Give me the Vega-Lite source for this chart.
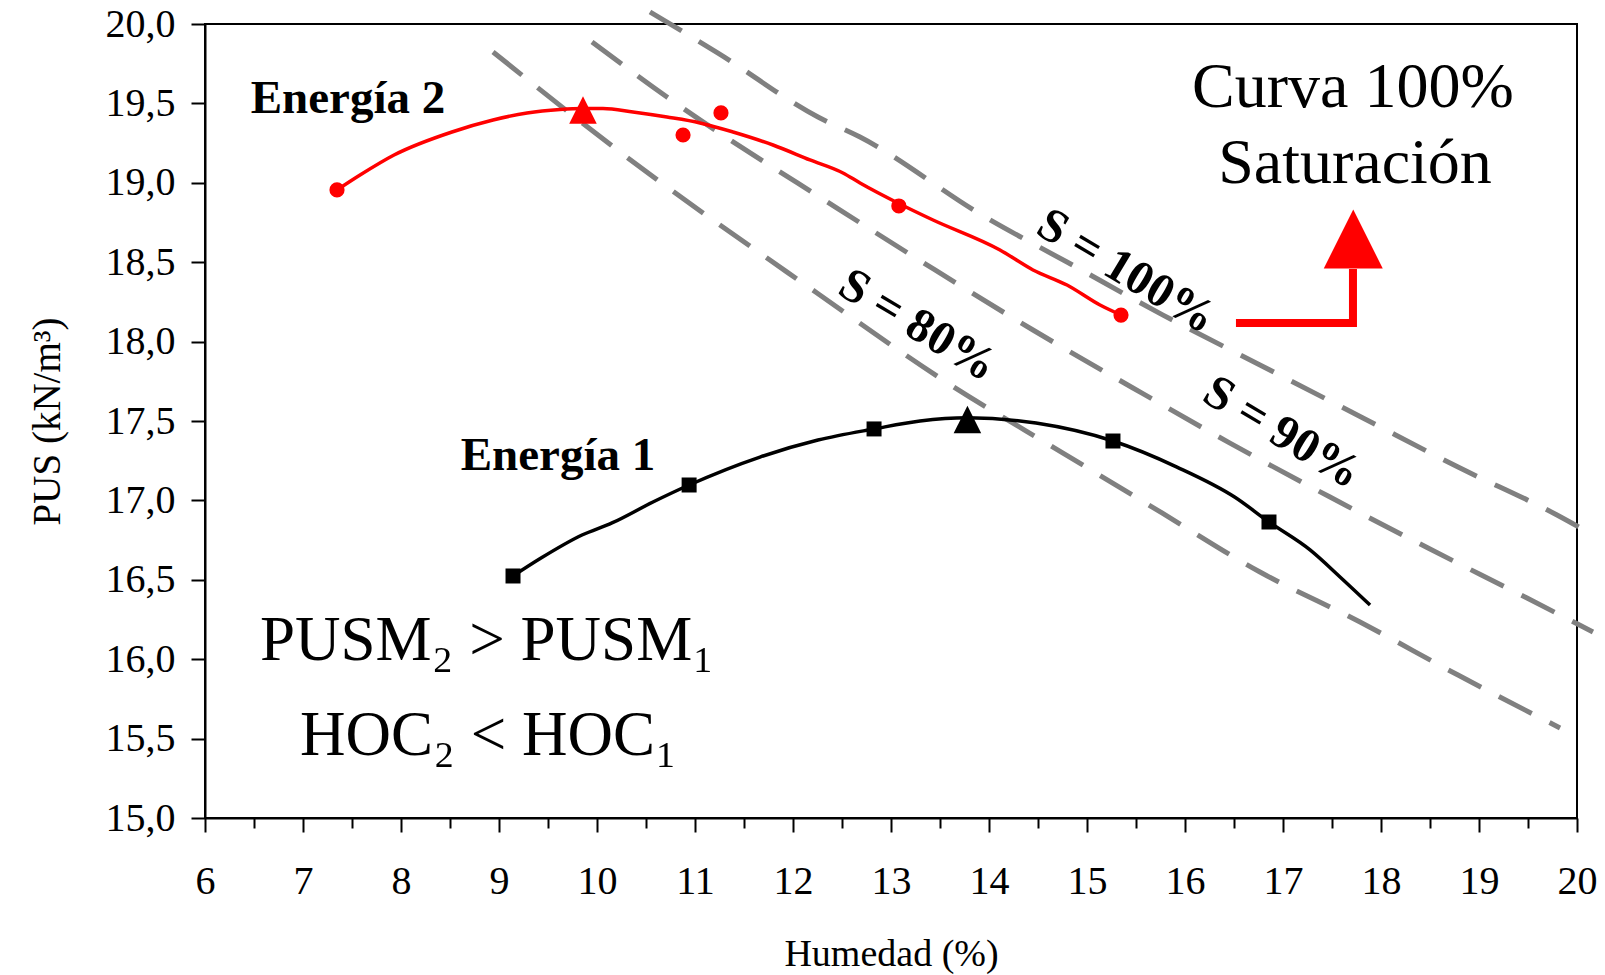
{
  "$schema": "https://vega.github.io/schema/vega-lite/v6.json",
  "autosize": {"type": "none"},
  "padding": {"left": 205, "top": 24, "right": 28, "bottom": 157},
  "width": 1372,
  "height": 794,
  "background": "white",
  "config": {
    "font": "Liberation Serif",
    "view": {"stroke": "black", "strokeWidth": 2},
    "axis": {"grid": false, "domainColor": "black", "domainWidth": 2, "tickColor": "black", "tickWidth": 2, "labelColor": "black", "titleColor": "black", "labelFont": "Liberation Serif", "titleFont": "Liberation Serif", "titleFontWeight": "normal"}
  },
  "encoding": {
    "x": {
      "field": "x", "type": "quantitative",
      "scale": {"domain": [6, 20], "nice": false, "zero": false},
      "axis": {
        "title": "Humedad (%)",
        "values": [6, 6.5, 7, 7.5, 8, 8.5, 9, 9.5, 10, 10.5, 11, 11.5, 12, 12.5, 13, 13.5, 14, 14.5, 15, 15.5, 16, 16.5, 17, 17.5, 18, 18.5, 19, 19.5, 20],
        "labelExpr": "datum.value % 1 === 0 ? format(datum.value, 'd') : ''",
        "tickSize": {"condition": {"test": "datum.value % 1 !== 0", "value": 10}, "value": 14},
        "labelFontSize": 40,
        "labelPadding": 29,
        "labelFlush": false,
        "labelOverlap": false,
        "titleFontSize": 38,
        "titlePadding": 34
      }
    },
    "y": {
      "field": "y", "type": "quantitative",
      "scale": {"domain": [15, 20], "nice": false, "zero": false},
      "axis": {
        "title": "PUS (kN/m³)",
        "values": [15, 15.5, 16, 16.5, 17, 17.5, 18, 18.5, 19, 19.5, 20],
        "labelExpr": "replace(format(datum.value, '.1f'), '.', ',')",
        "tickSize": 14,
        "labelFontSize": 40,
        "labelPadding": 16,
        "labelFlush": false,
        "labelOverlap": false,
        "titleFontSize": 39,
        "titlePadding": 38
      }
    }
  },
  "layer": [
    {
      "data": {"values": [
        {"S": "80", "x": 8.939, "y": 19.824}, {"S": "80", "x": 10.235, "y": 19.194}, {"S": "80", "x": 12.245, "y": 18.306}, {"S": "80", "x": 13.531, "y": 17.758}, {"S": "80", "x": 14.755, "y": 17.298}, {"S": "80", "x": 15.765, "y": 16.921}, {"S": "80", "x": 16.765, "y": 16.549}, {"S": "80", "x": 17.786, "y": 16.234}, {"S": "80", "x": 18.786, "y": 15.9}, {"S": "80", "x": 19.827, "y": 15.567},
        {"S": "90", "x": 9.949, "y": 19.887}, {"S": "90", "x": 10.714, "y": 19.54}, {"S": "90", "x": 12.449, "y": 18.841}, {"S": "90", "x": 13.449, "y": 18.451}, {"S": "90", "x": 14.449, "y": 18.073}, {"S": "90", "x": 15.469, "y": 17.708}, {"S": "90", "x": 16.459, "y": 17.361}, {"S": "90", "x": 17.48, "y": 17.021}, {"S": "90", "x": 18.48, "y": 16.7}, {"S": "90", "x": 19.49, "y": 16.385}, {"S": "90", "x": 20.163, "y": 16.171},
        {"S": "100", "x": 10.541, "y": 20.076}, {"S": "100", "x": 11.235, "y": 19.817}, {"S": "100", "x": 12.255, "y": 19.414}, {"S": "100", "x": 12.684, "y": 19.288}, {"S": "100", "x": 13.959, "y": 18.785}, {"S": "100", "x": 14.796, "y": 18.501}, {"S": "100", "x": 15.776, "y": 18.167}, {"S": "100", "x": 16.765, "y": 17.853}, {"S": "100", "x": 17.816, "y": 17.519}, {"S": "100", "x": 18.786, "y": 17.21}, {"S": "100", "x": 19.796, "y": 16.908}, {"S": "100", "x": 20.163, "y": 16.782}
      ]},
      "mark": {"type": "line", "color": "#808080", "strokeWidth": 5, "strokeDash": [37, 20], "interpolate": "monotone"},
      "encoding": {"detail": {"field": "S"}}
    },
    {
      "data": {"values": [
        {"x": 9.143, "y": 16.524}, {"x": 9.429, "y": 16.637}, {"x": 9.847, "y": 16.782}, {"x": 10.153, "y": 16.858}, {"x": 10.571, "y": 16.99}, {"x": 10.94, "y": 17.097}, {"x": 11.663, "y": 17.273}, {"x": 12.255, "y": 17.38}, {"x": 12.827, "y": 17.45}, {"x": 13.296, "y": 17.5}, {"x": 13.78, "y": 17.52}, {"x": 14.48, "y": 17.487}, {"x": 15.265, "y": 17.374}, {"x": 15.918, "y": 17.21}, {"x": 16.51, "y": 17.02}, {"x": 16.857, "y": 16.864}, {"x": 17.276, "y": 16.688}, {"x": 17.582, "y": 16.518}, {"x": 17.888, "y": 16.341}
      ]},
      "mark": {"type": "line", "color": "black", "strokeWidth": 3.5, "interpolate": "monotone"}
    },
    {
      "data": {"values": [
        {"x": 9.143, "y": 16.524}, {"x": 10.94, "y": 17.097}, {"x": 12.827, "y": 17.45}, {"x": 15.265, "y": 17.374}, {"x": 16.857, "y": 16.864}
      ]},
      "mark": {"type": "point", "shape": "square", "filled": true, "color": "black", "size": 225, "opacity": 1}
    },
    {
      "data": {"values": [{"x": 13.78, "y": 17.51}]},
      "mark": {"type": "point", "shape": "M0,-1L1,1L-1,1Z", "filled": true, "color": "black", "size": 760, "opacity": 1}
    },
    {
      "data": {"values": [
        {"x": 7.347, "y": 18.955}, {"x": 7.582, "y": 19.049}, {"x": 7.929, "y": 19.175}, {"x": 8.52, "y": 19.32}, {"x": 8.939, "y": 19.395}, {"x": 9.286, "y": 19.44}, {"x": 9.622, "y": 19.462}, {"x": 9.857, "y": 19.468}, {"x": 10.061, "y": 19.468}, {"x": 10.367, "y": 19.446}, {"x": 10.714, "y": 19.414}, {"x": 11.051, "y": 19.377}, {"x": 11.388, "y": 19.32}, {"x": 11.796, "y": 19.238}, {"x": 12.173, "y": 19.144}, {"x": 12.51, "y": 19.062}, {"x": 12.684, "y": 18.999}, {"x": 13.08, "y": 18.87}, {"x": 13.429, "y": 18.766}, {"x": 14.112, "y": 18.577}, {"x": 14.449, "y": 18.451}, {"x": 14.796, "y": 18.356}, {"x": 15.133, "y": 18.23}, {"x": 15.347, "y": 18.167}
      ]},
      "mark": {"type": "line", "color": "#ff0000", "strokeWidth": 3.5, "interpolate": "monotone"}
    },
    {
      "data": {"values": [
        {"x": 7.347, "y": 18.955}, {"x": 10.878, "y": 19.301}, {"x": 11.265, "y": 19.44}, {"x": 13.08, "y": 18.854}, {"x": 15.347, "y": 18.167}
      ]},
      "mark": {"type": "point", "shape": "circle", "filled": true, "color": "#ff0000", "size": 230, "opacity": 1}
    },
    {
      "data": {"values": [{"x": 9.857, "y": 19.458}]},
      "mark": {"type": "point", "shape": "M0,-1L1,1L-1,1Z", "filled": true, "color": "#ff0000", "size": 760, "opacity": 1}
    },
    {
      "data": {"values": [
        {"o": 1, "x": 16.52, "y": 18.117}, {"o": 2, "x": 17.714, "y": 18.117}, {"o": 3, "x": 17.714, "y": 18.457}
      ]},
      "mark": {"type": "line", "color": "#ff0000", "strokeWidth": 8, "strokeJoin": "miter", "strokeCap": "butt"},
      "encoding": {"order": {"field": "o"}}
    },
    {
      "data": {"values": [{"x": 17.717, "y": 18.646}]},
      "mark": {"type": "point", "shape": "M0,-1L1,1L-1,1Z", "filled": true, "color": "#ff0000", "size": 3481, "opacity": 1}
    },
    {
      "data": {"values": [
        {"x": 7.459, "y": 19.44, "t": "Energía 2"},
        {"x": 9.602, "y": 17.191, "t": "Energía 1"}
      ]},
      "mark": {"type": "text", "fontSize": 47, "fontWeight": "bold", "align": "center", "baseline": "alphabetic", "color": "black"},
      "encoding": {"text": {"field": "t"}}
    },
    {
      "data": {"values": [
        {"x": 8.878, "y": 15.995, "t": "PUSM₂ > PUSM₁"},
        {"x": 8.893, "y": 15.397, "t": "HOC₂ < HOC₁"}
      ]},
      "mark": {"type": "text", "fontSize": 63, "align": "center", "baseline": "alphabetic", "color": "black"},
      "encoding": {"text": {"field": "t"}}
    },
    {
      "data": {"values": [
        {"x": 17.714, "y": 19.477, "t": "Curva 100%"},
        {"x": 17.735, "y": 18.999, "t": "Saturación"}
      ]},
      "mark": {"type": "text", "fontSize": 64, "align": "center", "baseline": "alphabetic", "color": "black"},
      "encoding": {"text": {"field": "t"}}
    },
    {
      "data": {"values": [
        {"x": 15.4, "y": 18.44, "t": "S = 100%"},
        {"x": 13.27, "y": 18.1, "t": "S = 80%"},
        {"x": 16.99, "y": 17.425, "t": "S = 90%"}
      ]},
      "mark": {"type": "text", "fontSize": 48, "fontWeight": "bold", "angle": 31, "align": "center", "baseline": "middle", "color": "black"},
      "encoding": {"text": {"field": "t"}}
    }
  ]
}
